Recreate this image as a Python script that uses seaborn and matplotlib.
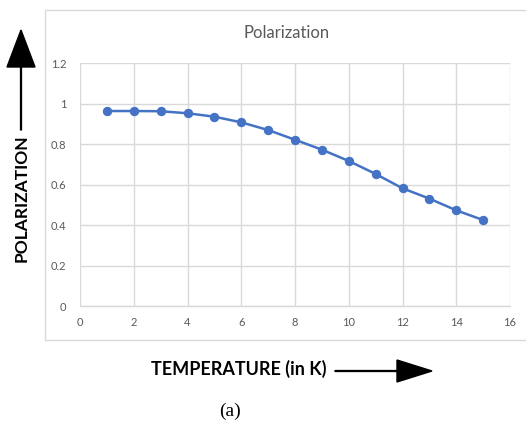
import matplotlib
matplotlib.use("Agg")
import matplotlib.pyplot as plt
import matplotlib.patches as mpatches
from matplotlib.transforms import IdentityTransform
import seaborn as sns
import pandas as pd

temperature = [1, 2, 3, 4, 5, 6, 7, 8, 9, 10, 11, 12, 13, 14, 15]
polarization = [0.964, 0.964, 0.963, 0.953, 0.936, 0.908, 0.870, 0.822,
                0.773, 0.717, 0.653, 0.582, 0.531, 0.473, 0.425]
x_ticks = [0, 2, 4, 6, 8, 10, 12, 14, 16]
y_ticks = [0, 0.2, 0.4, 0.6, 0.8, 1.0, 1.2]
y_tick_labels = ["0", "0.2", "0.4", "0.6", "0.8", "1", "1.2"]

sns.set_theme(style="whitegrid")
plt.rcParams["font.family"] = ["Lato", "DejaVu Sans"]

W, H = 526, 423
fig = plt.figure(figsize=(W / 100, H / 100), dpi=100)
ax = fig.add_axes([80 / W, 1 - 306 / H, 430 / W, (306 - 63.3) / H])

df = pd.DataFrame({"T": temperature, "P": polarization})
sns.lineplot(data=df, x="T", y="P", ax=ax, color="#4472C4", linewidth=1.8,
             marker="o", markersize=6, markeredgecolor="#4472C4")

ax.set_xlim(0, 16)
ax.set_ylim(0, 1.2)
ax.set_xticks(x_ticks)
ax.set_xticklabels([str(t) for t in x_ticks])
ax.set_yticks(y_ticks)
ax.set_yticklabels(y_tick_labels)
ax.grid(True, color="#D9D9D9", linewidth=1)
for s in ["top", "right", "left"]:
    ax.spines[s].set_visible(False)
ax.spines["bottom"].set_visible(True)
ax.spines["bottom"].set_color("#D9D9D9")
ax.spines["bottom"].set_linewidth(1)
ax.tick_params(axis="both", colors="#595959", labelsize=8, length=0)
ax.tick_params(axis="y", pad=10)
ax.tick_params(axis="x", pad=8)
ax.set_xlabel("")
ax.set_ylabel("")
ax.set_facecolor("white")

# title
fig.text(287 / W, 1 - 33 / H, "Polarization", ha="center", va="center",
         fontsize=12, color="#595959")

# chart box
fig.patches.append(mpatches.Rectangle((45, H - 340), 490, 330, fill=False,
                                      edgecolor="#D9D9D9", linewidth=1,
                                      transform=IdentityTransform(), figure=fig))

# axis labels with arrows
fig.text(22 / W, 1 - 198 / H, "POLARIZATION", rotation=90, ha="center",
         va="center", fontsize=12.5, fontweight="bold", color="black")
fig.patches.append(mpatches.FancyArrow(21, H - 130, 0, 100, width=0.9,
                                       head_width=28, head_length=37,
                                       length_includes_head=True,
                                       color="black",
                                       transform=IdentityTransform(), figure=fig))
fig.text(239 / W, 1 - 369 / H, "TEMPERATURE (in K)", ha="center",
         va="center", fontsize=13, fontweight="bold", color="black")
fig.patches.append(mpatches.FancyArrow(335, H - 371, 97, 0, width=0.9,
                                       head_width=22, head_length=35,
                                       length_includes_head=True,
                                       color="black",
                                       transform=IdentityTransform(), figure=fig))
fig.text(230 / W, 1 - 411 / H, "(a)", ha="center", va="center",
         fontsize=14, family=["Liberation Serif", "DejaVu Serif"], color="black")

fig.savefig("out.png", dpi=100, facecolor="white")
